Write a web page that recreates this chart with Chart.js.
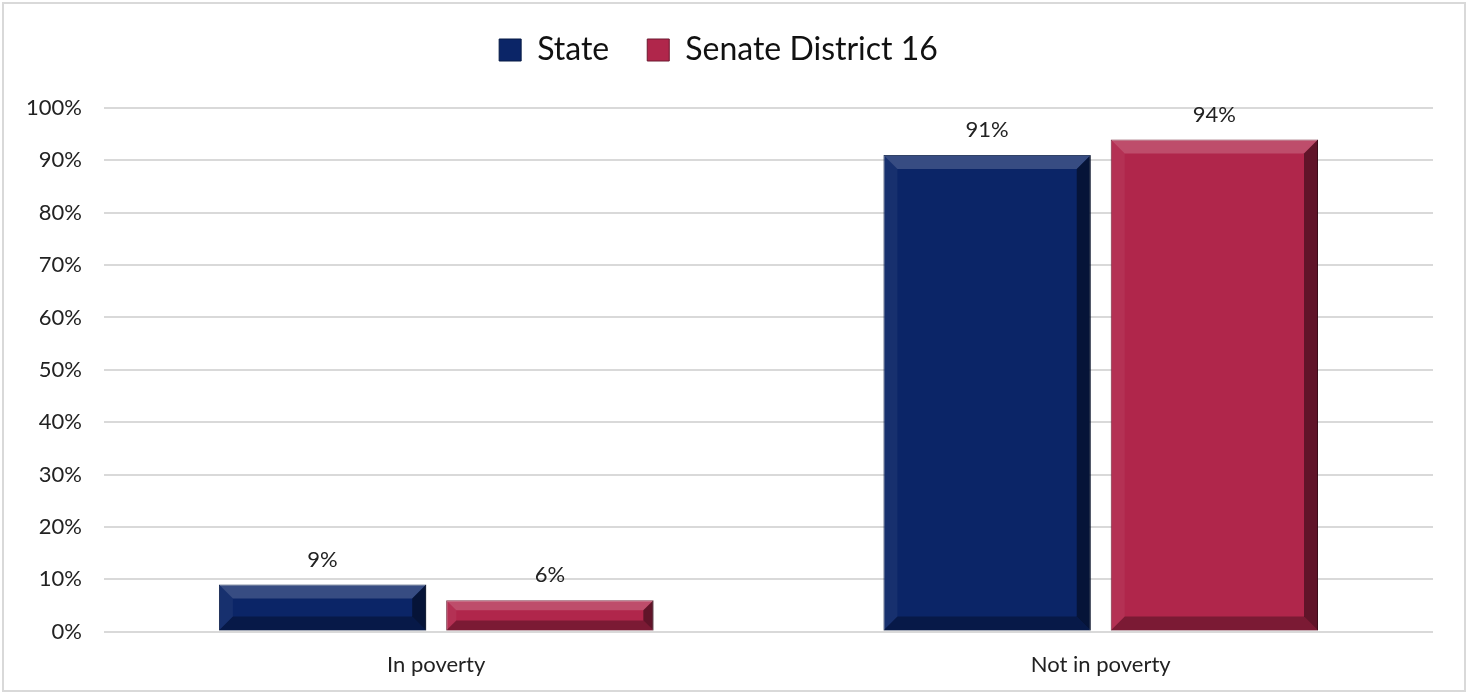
<!DOCTYPE html>
<html>
<head>
<meta charset="utf-8">
<script src="https://cdn.jsdelivr.net/npm/chart.js@4"></script>
<style>
  body { margin: 0; background: #fff; }
  #wrap { width: 1469px; height: 694px; }
</style>
</head>
<body>
<div id="wrap"><canvas id="povertyChart"></canvas></div>
<script>
const categories = ['In poverty', 'Not in poverty'];
const stateValues = [9, 91];
const districtValues = [6, 94];
const seriesNames = ['State', 'Senate District 16'];

const FONT = 'Lato, "Open Sans", sans-serif';

// marco gris alrededor del gráfico
const framePlugin = {
    id: 'frame',
    beforeDraw(chart) {
        const c = chart.ctx;
        c.save();
        c.fillStyle = '#fff';
        c.fillRect(0, 0, chart.width, chart.height);
        c.strokeStyle = '#d9d9d9';
        c.lineWidth = 2;
        c.strokeRect(3, 3, chart.width - 7, chart.height - 6);
        c.restore();
    }
};

// más espacio debajo de la leyenda
const legendGapPlugin = {
    id: 'legendGap',
    afterInit(chart) {
        const lg = chart.legend;
        if (!lg) return;
        const fit = lg.fit;
        lg.fit = function() {
            fit.call(this);
            this.height += 32;
        };
    }
};

// efecto biselado sobre cada barra
const bevelPlugin = {
    id: 'bevel',
    afterDatasetsDraw(chart) {
        const c = chart.ctx;
        chart.data.datasets.forEach((ds, i) => {
            chart.getDatasetMeta(i).data.forEach(bar => {
                const l = bar.x - bar.width / 2, r = bar.x + bar.width / 2;
                const t = bar.y, b = bar.base;
                const s = Math.min(14, (b - t) / 3);
                c.save();
                // arriba (claro)
                c.beginPath();
                c.moveTo(l, t); c.lineTo(r, t); c.lineTo(r - s, t + s); c.lineTo(l + s, t + s); c.closePath();
                c.fillStyle = 'rgba(255,255,255,0.18)'; c.fill();
                // izquierda
                c.beginPath();
                c.moveTo(l, t); c.lineTo(l + s, t + s); c.lineTo(l + s, b - s); c.lineTo(l, b); c.closePath();
                c.fillStyle = 'rgba(255,255,255,0.05)'; c.fill();
                // derecha (oscuro)
                c.beginPath();
                c.moveTo(r, t); c.lineTo(r, b); c.lineTo(r - s, b - s); c.lineTo(r - s, t + s); c.closePath();
                c.fillStyle = 'rgba(0,0,0,0.45)'; c.fill();
                // abajo
                c.beginPath();
                c.moveTo(l, b); c.lineTo(r, b); c.lineTo(r - s, b - s); c.lineTo(l + s, b - s); c.closePath();
                c.fillStyle = 'rgba(0,0,0,0.3)'; c.fill();
                c.restore();
            });
        });
    }
};

// etiquetas de valor sobre las barras
const labelPlugin = {
    id: 'valueLabels',
    afterDatasetsDraw(chart) {
        const c = chart.ctx;
        c.save();
        c.font = '22px ' + FONT;
        c.fillStyle = '#222';
        c.textAlign = 'center';
        c.textBaseline = 'bottom';
        chart.data.datasets.forEach((ds, i) => {
            chart.getDatasetMeta(i).data.forEach((bar, j) => {
                c.fillText(ds.data[j] + '%', bar.x, bar.y - 14);
            });
        });
        c.restore();
    }
};

const ctx = document.getElementById('povertyChart').getContext('2d');
const povertyChart = new Chart(ctx, {
    type: 'bar',
    data: {
        labels: categories,
        datasets: [{
            label: seriesNames[0],
            data: stateValues,
            backgroundColor: '#0b2567',
            borderColor: '#061a45',
            borderWidth: 1,
            categoryPercentage: 0.684,
            barPercentage: 0.912
        }, {
            label: seriesNames[1],
            data: districtValues,
            backgroundColor: '#b0264b',
            borderColor: '#6d1830',
            borderWidth: 1,
            categoryPercentage: 0.684,
            barPercentage: 0.912
        }]
    },
    options: {
        responsive: true,
        maintainAspectRatio: false,
        animation: false,
        layout: {
            padding: { left: 4, right: 36, top: -4, bottom: 4 }
        },
        plugins: {
            legend: {
                position: 'top',
                labels: {
                    usePointStyle: true,
                    pointStyle: 'rect',
                    boxWidth: 22,
                    boxHeight: 22,
                    padding: 38,
                    color: '#111',
                    font: { size: 32, family: FONT }
                }
            },
            tooltip: { enabled: false }
        },
        scales: {
            x: {
                grid: { display: false },
                border: { display: false },
                ticks: {
                    color: '#222',
                    padding: 12,
                    font: { size: 22, family: FONT }
                }
            },
            y: {
                min: 0,
                max: 100,
                border: { display: false },
                grid: { color: '#d9d9d9', lineWidth: 2, drawTicks: false },
                ticks: {
                    stepSize: 10,
                    padding: 22,
                    color: '#222',
                    font: { size: 22, family: FONT },
                    callback: v => v + '%'
                }
            }
        }
    },
    plugins: [framePlugin, legendGapPlugin, bevelPlugin, labelPlugin]
});
</script>
</body>
</html>
